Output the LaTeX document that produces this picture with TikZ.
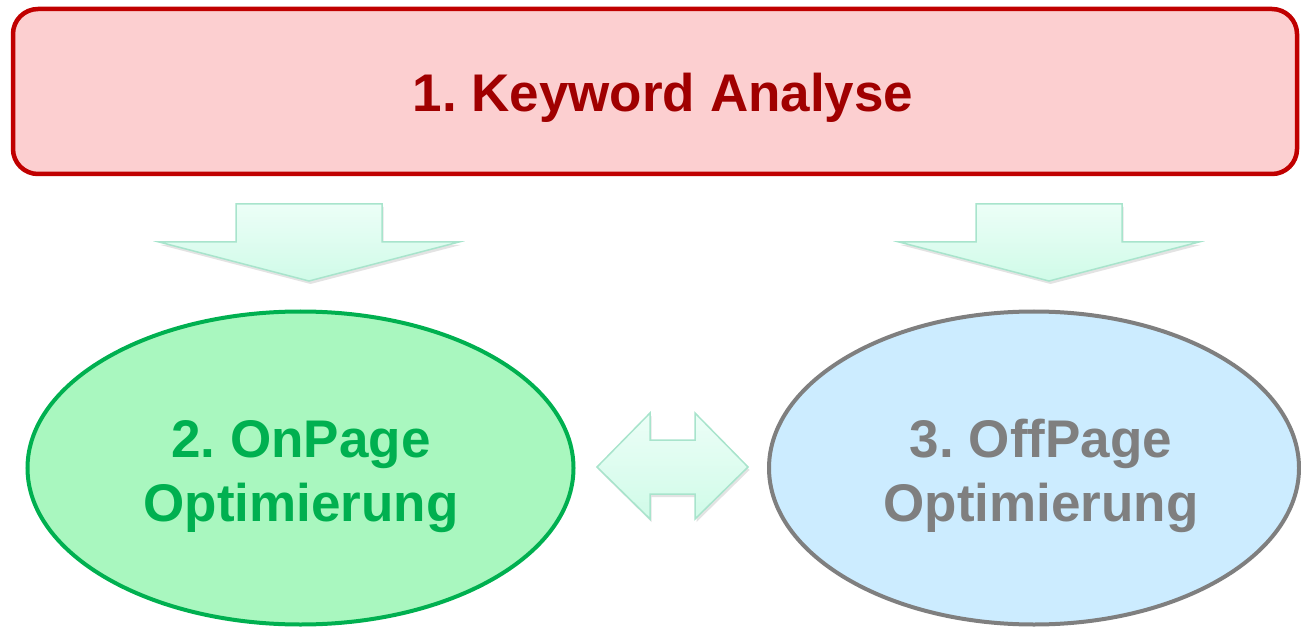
\documentclass[tikz,border=0pt]{standalone}
\usepackage{fontspec}
\setmainfont{Liberation Sans}
\frenchspacing
\usetikzlibrary{shapes.geometric,shadows}
\definecolor{boxred}{HTML}{C00000}
\definecolor{boxpink}{HTML}{FCCFD0}
\definecolor{textred}{HTML}{A00000}
\definecolor{ongreen}{HTML}{00B050}
\definecolor{onfill}{HTML}{A9F7BF}
\definecolor{offgray}{HTML}{7F7F7F}
\definecolor{offfill}{HTML}{CCECFF}
\definecolor{arrtop}{HTML}{ECFEF7}
\definecolor{arrbot}{HTML}{D0FBE8}
\definecolor{arredge}{HTML}{A8E4CC}
\tikzset{
  bigtext/.style={font=\fontsize{53}{64}\selectfont\bfseries, align=center, inner sep=0pt},
  blockarrow/.style={draw=arredge, line width=1.5pt, top color=arrtop, bottom color=arrbot,
     drop shadow={shadow xshift=1.5pt, shadow yshift=-3pt, opacity=0.18, fill=black!60}},
}
\begin{document}
\begin{tikzpicture}[x=1pt,y=-1pt]
\useasboundingbox (0,0) rectangle (1301,628);
% top box
\node[draw=boxred, fill=boxpink, line width=4.5pt, rounded corners=25pt,
      minimum width=1284pt, minimum height=165pt, inner sep=0pt] (kw) at (655,91.5) {};
\node[bigtext, text=textred, anchor=base] (kwtext) at (663,112) {1. Keyword Analyse};
% ellipses
\node[ellipse, draw=ongreen, fill=onfill, line width=4pt,
      minimum width=546pt, minimum height=313pt, inner sep=0pt] (on) at (300.5,468) {};
\node[bigtext, text=ongreen, anchor=base] (ontext) at (301,521) {2. OnPage\\Optimierung};
\node[ellipse, draw=offgray, fill=offfill, line width=4pt,
      minimum width=530pt, minimum height=313pt, inner sep=0pt] (off) at (1034,468) {};
\node[bigtext, text=offgray, anchor=base] (offtext) at (1041,521) {3. OffPage\\Optimierung};
% down arrows
\coordinate (a1) at (309,204);
\coordinate (a2) at (1049,204);
\foreach \c in {a1,a2}{
  \draw[blockarrow] (\c) ++(-73,0) -- ++(146,0) -- ++(0,38) -- ++(77,0)
     -- ++(-150,39) -- ++(-150,-39) -- ++(77,0) -- cycle;
}
% double arrow
\coordinate (dm) at (672.5,467);
\draw[blockarrow] (dm) ++(-75.5,0) -- ++(53,-54) -- ++(0,27) -- ++(45,0) -- ++(0,-27)
   -- ++(53,54) -- ++(-53,52) -- ++(0,-25) -- ++(-45,0) -- ++(0,25) -- cycle;
\end{tikzpicture}
\end{document}
